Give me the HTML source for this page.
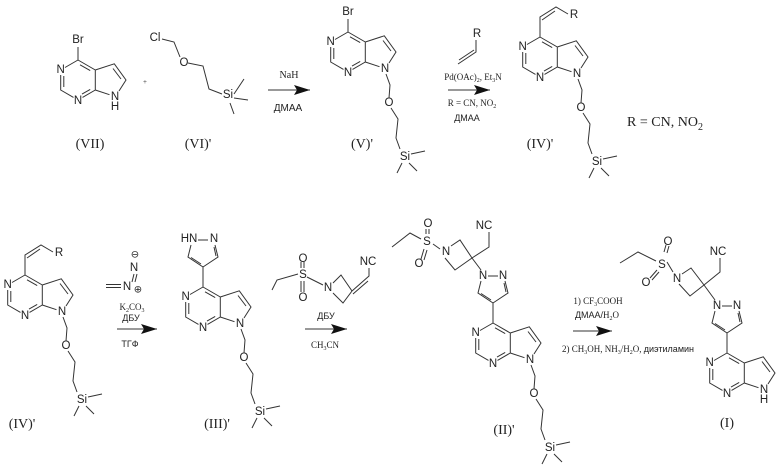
<!DOCTYPE html>
<html><head><meta charset="utf-8"><style>
html,body{margin:0;padding:0;background:#fff;}
svg{display:block;}
.b{stroke:#333;stroke-width:1;fill:none;}
.a{font-family:"Liberation Sans",sans-serif;font-size:11.5px;fill:#222;text-anchor:middle;dominant-baseline:central;}
.c{font-family:"Liberation Serif",serif;font-size:14px;fill:#222;text-anchor:middle;}
.r{font-family:"Liberation Serif",serif;font-size:10px;fill:#222;text-anchor:middle;}
.rs{font-family:"Liberation Sans",sans-serif;font-size:10px;fill:#222;text-anchor:middle;}
</style></head><body>
<svg width="780" height="474" viewBox="0 0 780 474" xmlns="http://www.w3.org/2000/svg">
<defs>
<g id="core" class="b">
<path d="M0,-20 L-13,-12.5 M-17.3,-5 L-17.3,10 L-4.5,17.4 M4.5,17.4 L17.3,10 L17.3,-10 L0,-20 M2,-15.2 L12.2,-9.4 M-14.2,-4 L-14.2,7 M4,14.1 L12.2,9.4 M17.3,-10 L36.3,-16.2 L48,0 L41,11 M35,-11.5 L43,-1 M31.5,14.7 L17.3,10"/>
</g>
<g id="chain" class="b">
<path d="M38,22 L42,33 L41,46 M43,56 L50,67 L48,86 L52,97 M63,102 L77,99 M54,111 L49,121 M61,111 L69,119"/>
</g>
<g id="pyr" class="b">
<path d="M0,-20 L0,-40 L-15,-50 L-12,-62 M-5,-67 L5,-67 M12,-62 L15,-50 L0,-40 M-2,-43 L-12,-49.5 M11,-60 L13,-51"/>
</g>
<marker id="ar" viewBox="0 0 16 10" refX="16" refY="5" markerWidth="16" markerHeight="10" markerUnits="userSpaceOnUse" orient="auto"><path d="M0,0 L16,5 L0,10 L3,5 Z" fill="#111"/></marker>
</defs>

<!-- VII -->
<g transform="translate(78,80)">
<use href="#core"/>
<path class="b" d="M0,-20 L0,-33"/>
<text class="a" x="0" y="-40">Br</text>
<text class="a" x="-17.3" y="-10">N</text>
<text class="a" x="0" y="21">N</text>
<text class="a" x="37" y="17">N</text>
<text class="a" x="37" y="27">H</text>
</g>
<text class="c" x="90" y="148">(VII)</text>
<text class="r" x="145" y="84" style="font-size:7px">+</text>

<!-- VI' -->
<text class="a" x="155" y="38">Cl</text>
<path class="b" d="M162,39 L174,42 L180,57 M188,63 L203,66 L209,89 L222,94 M234,94 L244,79 M234,98 L248,100 M230,103 L234,114"/>
<text class="a" x="184" y="63">O</text>
<text class="a" x="228" y="95">Si</text>
<text class="c" x="198" y="148">(VI)'</text>

<!-- arrow 1 -->
<line class="b" x1="268" y1="90" x2="310" y2="90" stroke="#111" stroke-width="1.3" marker-end="url(#ar)"/>
<text class="r" x="289" y="78">NaH</text>
<text class="rs" x="288" y="111">ДМАА</text>

<!-- V' -->
<g transform="translate(348,52)">
<use href="#core"/><use href="#chain"/>
<path class="b" d="M0,-20 L0,-33"/>
<text class="a" x="0" y="-40">Br</text>
<text class="a" x="-17.3" y="-10">N</text>
<text class="a" x="0" y="21">N</text>
<text class="a" x="37" y="17">N</text>
<text class="a" x="41" y="51">O</text>
<text class="a" x="57" y="105">Si</text>
</g>
<text class="c" x="362" y="148">(V)'</text>

<!-- arrow 2 -->
<path class="b" d="M458,64 L476,52 L476,40 M459,60 L474,50"/>
<text class="a" x="477" y="34">R</text>
<line class="b" x1="448" y1="90" x2="490" y2="90" stroke="#111" stroke-width="1.3" marker-end="url(#ar)"/>
<text class="r" x="473" y="80" style="font-size:9px">Pd(OAc)<tspan font-size="6" dy="2">2</tspan><tspan dy="-2">, Et</tspan><tspan font-size="6" dy="2">3</tspan><tspan dy="-2">N</tspan></text>
<text class="r" x="472" y="106" style="font-size:9px">R = CN, NO<tspan font-size="6" dy="2">2</tspan></text>
<text class="rs" x="467" y="121" style="font-size:9px">ДМАА</text>

<!-- IV' top -->
<g transform="translate(540,57)">
<use href="#core"/><use href="#chain"/>
<path class="b" d="M0,-20 L0,-40 L16,-50 L28,-43 M2,-37 L15,-46"/>
<text class="a" x="34" y="-42">R</text>
<text class="a" x="-17.3" y="-10">N</text>
<text class="a" x="0" y="21">N</text>
<text class="a" x="37" y="17">N</text>
<text class="a" x="41" y="51">O</text>
<text class="a" x="57" y="105">Si</text>
</g>
<text class="c" x="540" y="148">(IV)'</text>
<text class="c" x="665" y="126">R = CN, NO<tspan font-size="10" dy="4">2</tspan></text>

<!-- IV' bottom -->
<g transform="translate(25,295)">
<use href="#core"/><use href="#chain"/>
<path class="b" d="M0,-20 L0,-40 L16,-50 L28,-43 M2,-37 L15,-46"/>
<text class="a" x="34" y="-42">R</text>
<text class="a" x="-17.3" y="-10">N</text>
<text class="a" x="0" y="21">N</text>
<text class="a" x="37" y="17">N</text>
<text class="a" x="41" y="51">O</text>
<text class="a" x="57" y="105">Si</text>
</g>
<text class="c" x="22" y="428">(IV)'</text>

<!-- arrow 3 -->
<text class="a" x="135" y="255" style="font-size:10px">⊖</text>
<text class="a" x="134" y="268">N</text>
<path class="b" d="M134,274 L132,282 M137,274 L135,282"/>
<text class="a" x="127" y="287">N</text>
<text class="a" x="138" y="290" style="font-size:10px">⊕</text>
<path class="b" d="M106,284.5 L121,284.5 M106,287.5 L121,287.5"/>
<text class="r" x="132" y="310" style="font-size:9px">K<tspan font-size="6" dy="2">2</tspan><tspan dy="-2">CO</tspan><tspan font-size="6" dy="2">3</tspan></text>
<text class="rs" x="131" y="321" style="font-size:9px">ДБУ</text>
<line class="b" x1="117" y1="329" x2="157" y2="329" stroke="#111" stroke-width="1.3" marker-end="url(#ar)"/>
<text class="rs" x="130" y="347" style="font-size:9px">ТГФ</text>

<!-- III' -->
<g transform="translate(203,307)">
<use href="#core"/><use href="#chain"/><use href="#pyr"/>
<text class="a" x="-14" y="-68">HN</text>
<text class="a" x="11" y="-68">N</text>
<text class="a" x="-17.3" y="-10">N</text>
<text class="a" x="0" y="21">N</text>
<text class="a" x="37" y="17">N</text>
<text class="a" x="41" y="51">O</text>
<text class="a" x="57" y="105">Si</text>
</g>
<text class="c" x="217" y="428">(III)'</text>

<!-- reagent 4 -->
<path class="b" d="M272,290 L277,280 L298,274 M307,277 L323,285 M301,268 L301,262 M304,268 L304,262 M301,281 L301,292 M304,281 L304,292 M333,283 L341,275 L352,291 L343,303 L333,293 M352,291 L369,276 L369,268 M353,294 L368,281"/>
<text class="a" x="303" y="275">S</text>
<text class="a" x="303" y="259">O</text>
<text class="a" x="303" y="298">O</text>
<text class="a" x="328" y="288">N</text>
<text class="a" x="368" y="262">NC</text>
<text class="rs" x="326" y="319" style="font-size:9px">ДБУ</text>
<line class="b" x1="305" y1="329" x2="347" y2="329" stroke="#111" stroke-width="1.3" marker-end="url(#ar)"/>
<text class="r" x="325" y="348" style="font-size:9px">CH<tspan font-size="6" dy="2">3</tspan><tspan dy="-2">CN</tspan></text>

<!-- II' -->
<g transform="translate(493,343)">
<use href="#core"/><use href="#chain"/><use href="#pyr"/>
<text class="a" x="-10" y="-67">N</text>
<text class="a" x="10" y="-67">N</text>
<text class="a" x="-17.3" y="-10">N</text>
<text class="a" x="0" y="21">N</text>
<text class="a" x="37" y="17">N</text>
<text class="a" x="41" y="51">O</text>
<text class="a" x="57" y="105">Si</text>
</g>
<path class="b" d="M481,270 L472,258 L460,240 L451,246 M445,258 L455,270 L472,258 L489,247 L489,232 M433,244 L440,249 M426,234 L426,229 M429,234 L429,229 M424,249 L421,259 M427,250 L424,260 M421,239 L410,233 L392,247"/>
<text class="a" x="427" y="242">S</text>
<text class="a" x="428" y="224">O</text>
<text class="a" x="419" y="264">O</text>
<text class="a" x="446" y="252">N</text>
<text class="a" x="484" y="226">NC</text>
<text class="c" x="504" y="434">(II)'</text>

<!-- arrow 5 -->
<text class="r" x="598" y="304" style="font-size:9px">1) CF<tspan font-size="6" dy="2">3</tspan><tspan dy="-2">COOH</tspan></text>
<text class="rs" x="597" y="318" style="font-size:9px">ДМАА/<tspan font-family="Liberation Serif">H<tspan font-size="6" dy="2">2</tspan><tspan dy="-2">O</tspan></tspan></text>
<line class="b" x1="573" y1="331" x2="612" y2="331" stroke="#111" stroke-width="1.3" marker-end="url(#ar)"/>
<text class="r" x="628" y="352" style="font-size:9px">2) CH<tspan font-size="6" dy="2">3</tspan><tspan dy="-2">OH, NH</tspan><tspan font-size="6" dy="2">3</tspan><tspan dy="-2">/H</tspan><tspan font-size="6" dy="2">2</tspan><tspan dy="-2">O, </tspan><tspan font-family="Liberation Sans">диэтиламин</tspan></text>

<!-- I -->
<g transform="translate(727,373)">
<use href="#core"/><use href="#pyr"/>
<text class="a" x="-10" y="-67">N</text>
<text class="a" x="10" y="-67">N</text>
<text class="a" x="-17.3" y="-10">N</text>
<text class="a" x="0" y="21">N</text>
<text class="a" x="37" y="17">N</text>
<text class="a" x="37" y="27">H</text>
</g>
<path class="b" d="M715,300 L704,285 L691,268 L682,274 M679,284 L690,296 L704,285 L720,272 L720,258 M667,262 L673,272 M664,252 L666,245 M667,253 L669,246 M657,270 L650,278 M659,272 L652,280 M656,261 L638,252 L620,263"/>
<text class="a" x="662" y="265">S</text>
<text class="a" x="668" y="242">O</text>
<text class="a" x="646" y="283">O</text>
<text class="a" x="677" y="279">N</text>
<text class="a" x="718" y="252">NC</text>
<text class="c" x="727" y="427">(I)</text>
</svg>
</body></html>
